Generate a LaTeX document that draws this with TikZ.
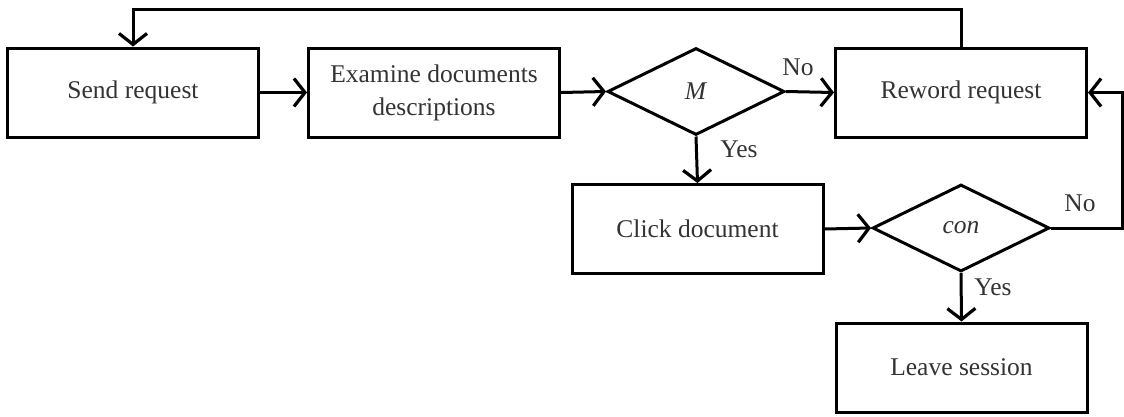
\documentclass[tikz,border=0pt]{standalone}
\usepackage{fontspec}
\setmainfont{Liberation Serif}
\usetikzlibrary{arrows.meta,shapes.geometric}
\begin{document}
\begin{tikzpicture}[x=1pt,y=-1pt,
  every node/.style={font=\fontsize{25.5}{33}\selectfont, text=black!80},
  box/.style={draw=black, line width=3pt, rectangle, inner sep=0pt, minimum width=251pt, minimum height=89pt, align=center},
  dec/.style={draw=black, line width=3pt, diamond, inner sep=0pt, minimum width=177pt, minimum height=87pt},
  conn/.style={draw=black, line width=3pt, -{Straight Barb[length=11pt,width=28pt,line width=3.2pt]}},
  lbl/.style={inner sep=0pt}]
\useasboundingbox (0,0) rectangle (1124,416);
\node[box] (send) at (133,92.5) {Send request};
\node[box] (exam) at (434,92.5) {Examine documents\\descriptions};
\node[dec] (M) at (696,91.5) {\textit{M}};
\node[box] (reword) at (961,92.5) {Reword request};
\node[box] (click) at (697.5,229) {Click document};
\node[dec] (con) at (961,228) {\textit{con}};
\node[box] (leave) at (961.5,367.5) {Leave session};
\coordinate (topy) at (0,9);
\coordinate (rightx) at (1122,0);

\draw[conn] (send.east) -- (exam.west);
\draw[conn] (exam.east) -- (M.west);
\draw[conn] (M.east) -- (reword.west);
\draw[conn] (M.south) -- (click.north);
\draw[conn] (click.east) -- (con.west);
\draw[conn] (con.south) -- (leave.north);
\draw[conn] (con.east) -- (con.east -| rightx) |- (reword.east);
\draw[conn] (reword.north) -- (reword.north |- topy) -| (send.north);

\node[lbl] (no1) at (798,67) {No};
\node[lbl] (yes1) at (739,149) {Yes};
\node[lbl] (no2) at (1080,203) {No};
\node[lbl] (yes2) at (993,287) {Yes};
\end{tikzpicture}
\end{document}
